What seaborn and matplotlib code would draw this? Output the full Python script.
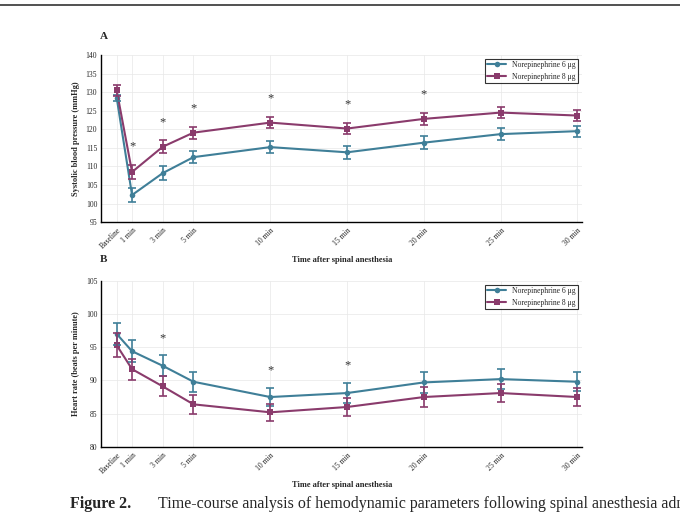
import numpy as np
import pandas as pd
import matplotlib.pyplot as plt
import seaborn as sns

minutes = [0, 1, 3, 5, 10, 15, 20, 25, 30]
tick_labels = ["Baseline", "1 min", "3 min", "5 min", "10 min", "15 min", "20 min", "25 min", "30 min"]

sbp_6 = [128.5, 102.3, 108.2, 112.5, 115.2, 113.8, 116.4, 118.7, 119.5]
sbp_6_err = [0.8, 2.0, 1.8, 1.7, 1.6, 1.7, 1.8, 1.6, 1.5]
sbp_8 = [130.5, 108.5, 115.3, 119.1, 121.8, 120.2, 122.8, 124.5, 123.7]
sbp_8_err = [1.5, 1.9, 1.8, 1.6, 1.5, 1.6, 1.7, 1.5, 1.4]
sbp_star_x = [1, 3, 5, 10, 15, 20]
sbp_star_y = [115.5, 122.0, 125.7, 128.3, 126.8, 129.5]

hr_6 = [97.0, 94.4, 92.2, 89.8, 87.5, 88.1, 89.7, 90.2, 89.8]
hr_6_err = [1.7, 1.7, 1.6, 1.5, 1.4, 1.5, 1.6, 1.5, 1.4]
hr_8 = [95.3, 91.7, 89.1, 86.4, 85.2, 86.0, 87.5, 88.1, 87.5]
hr_8_err = [1.8, 1.6, 1.5, 1.4, 1.3, 1.4, 1.5, 1.4, 1.3]
hr_star_x = [3, 10, 15]
hr_star_y = [96.4, 91.5, 92.3]

c6 = "#3f7f98"
c8 = "#8a3b6c"

sns.set_theme(style="whitegrid")
plt.rcParams["font.family"] = ["Liberation Serif", "DejaVu Serif"]
plt.rcParams["axes.edgecolor"] = "black"

fig = plt.figure(figsize=(6.8, 5.19), dpi=100)
ax_a = fig.add_axes([0.149, 0.572, 0.707, 0.322])
ax_b = fig.add_axes([0.149, 0.139, 0.707, 0.320])


def draw_panel(ax, s6, e6, s8, e8, sx, sy, ylim, ylabel):
    df = pd.DataFrame({
        "x": minutes * 2,
        "y": s6 + s8,
        "grp": ["Norepinephrine 6 \u03bcg"] * 9 + ["Norepinephrine 8 \u03bcg"] * 9,
    })
    sns.lineplot(data=df, x="x", y="y", hue="grp", style="grp", markers=["o", "s"],
                 dashes=False, palette=[c6, c8], ax=ax, lw=1.5, markersize=4,
                 markeredgewidth=0)
    ax.errorbar(minutes, s6, yerr=e6, fmt="none", ecolor=c6, capsize=3, elinewidth=1.2, capthick=1.2)
    ax.errorbar(minutes, s8, yerr=e8, fmt="none", ecolor=c8, capsize=3, elinewidth=1.2, capthick=1.2)
    for x, y in zip(sx, sy):
        ax.text(x, y, "*", ha="center", va="center", fontsize=9, color="#333333")
    ax.set_xlim(-1, 30.3)
    ax.set_ylim(*ylim)
    ax.set_yticks(np.arange(ylim[0], ylim[1] + 1, 5))
    ax.set_xticks(minutes)
    ax.set_xticklabels(tick_labels, rotation=45, ha="right", rotation_mode="anchor")
    ax.tick_params(labelsize=5.5, length=2, pad=1)
    ax.set_xlabel("Time after spinal anesthesia", fontsize=6, fontweight="bold")
    ax.set_ylabel(ylabel, fontsize=6, fontweight="bold")
    ax.grid(color="#e8e8e8", lw=0.5)
    for side in ["top", "right"]:
        ax.spines[side].set_visible(False)
    for side in ["left", "bottom"]:
        ax.spines[side].set_linewidth(1.0)
    leg = ax.legend(loc="upper right", fontsize=5.5, frameon=True, fancybox=False,
                    borderpad=0.3, handlelength=2.5)
    leg.get_frame().set_edgecolor("black")
    leg.get_frame().set_linewidth(0.8)


draw_panel(ax_a, sbp_6, sbp_6_err, sbp_8, sbp_8_err, sbp_star_x, sbp_star_y,
           (95, 140), "Systolic blood pressure (mmHg)")
draw_panel(ax_b, hr_6, hr_6_err, hr_8, hr_8_err, hr_star_x, hr_star_y,
           (80, 105), "Heart rate (beats per minute)")

fig.text(0.147, 0.925, "A", fontsize=8, fontweight="bold")
fig.text(0.147, 0.495, "B", fontsize=8, fontweight="bold")
fig.add_artist(plt.Line2D([0, 1], [0.99, 0.99], color="#333333", lw=1.2))
fig.text(0.103, 0.022, "Figure 2.", fontsize=11.5, fontweight="bold")
fig.text(0.232, 0.022, "Time-course analysis of hemodynamic parameters following spinal anesthesia administration",
         fontsize=11.5)

fig.savefig("out.png", dpi=100)
